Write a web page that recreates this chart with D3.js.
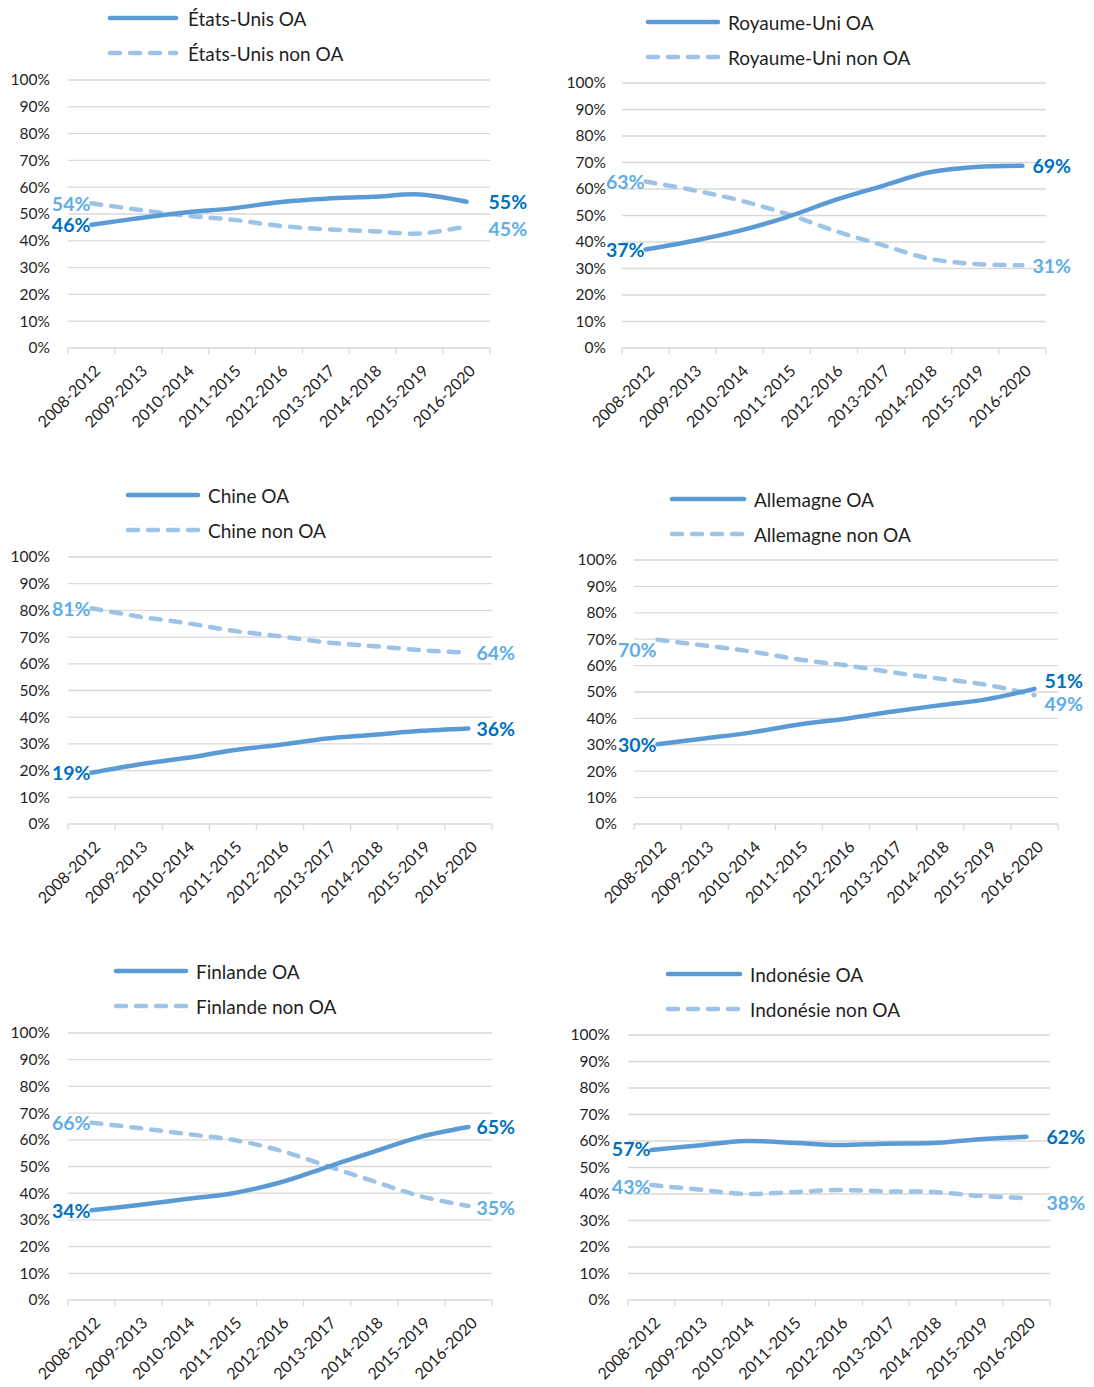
<!DOCTYPE html>
<html>
<head>
<meta charset="utf-8">
<script src="https://cdn.jsdelivr.net/npm/d3@7/dist/d3.min.js"></script>
<style>
  html, body { margin: 0; padding: 0; background: #ffffff; }
  svg { display: block; font-family: Lato, "Open Sans", sans-serif; }
</style>
</head>
<body>
<svg id="chart" width="1094" height="1387"></svg>
<script>
// ---------- DATA ----------
const categories = ["2008-2012","2009-2013","2010-2014","2011-2015","2012-2016","2013-2017","2014-2018","2015-2019","2016-2020"];
const yTicks = [0, 0.1, 0.2, 0.3, 0.4, 0.5, 0.6, 0.7, 0.8, 0.9, 1.0];

const countries = ["États-Unis", "Royaume-Uni", "Chine", "Allemagne", "Finlande", "Indonésie"];

const usOA      = [46.0, 48.4, 50.6, 52.1, 54.4, 55.7, 56.4, 57.3, 54.6];
const usNonOA   = [54.0, 51.6, 49.4, 47.9, 45.6, 44.3, 43.6, 42.7, 45.4];
const ukOA      = [37.2, 40.4, 44.3, 49.4, 55.7, 61.0, 66.2, 68.3, 68.8];
const ukNonOA   = [62.8, 59.6, 55.7, 50.6, 44.3, 39.0, 33.8, 31.7, 31.2];
const cnOA      = [19.2, 22.3, 24.7, 27.6, 29.7, 32.0, 33.4, 34.9, 35.8];
const cnNonOA   = [80.8, 77.7, 75.3, 72.4, 70.3, 68.0, 66.6, 65.1, 64.2];
const deOA      = [30.2, 32.4, 34.7, 37.7, 39.9, 42.6, 45.0, 47.3, 51.2];
const deNonOA   = [69.8, 67.6, 65.3, 62.3, 60.1, 57.4, 55.0, 52.7, 48.8];
const fiOA      = [33.6, 35.6, 37.8, 40.0, 44.0, 49.8, 55.6, 61.2, 64.8];
const fiNonOA   = [66.4, 64.4, 62.2, 60.0, 56.0, 50.2, 44.4, 38.8, 35.2];
const idOA      = [56.6, 58.3, 60.0, 59.3, 58.5, 59.0, 59.2, 60.7, 61.6];
const idNonOA   = [43.4, 41.7, 40.0, 40.7, 41.5, 41.0, 40.8, 39.3, 38.4];

const oaSeries    = [usOA, ukOA, cnOA, deOA, fiOA, idOA];
const nonOaSeries = [usNonOA, ukNonOA, cnNonOA, deNonOA, fiNonOA, idNonOA];

// ---------- LAYOUT (positions / styles only) ----------
const panels = [
  { left: 68,  right: 490,  top: 80,   bottom: 348,  yLab: 50,  legX1: 110, legX2: 176, legY: 18,  legTx: 188 },
  { left: 622, right: 1046, top: 83,   bottom: 348,  yLab: 606, legX1: 648, legX2: 718, legY: 22,  legTx: 728 },
  { left: 68,  right: 492,  top: 557,  bottom: 824,  yLab: 50,  legX1: 128, legX2: 198, legY: 495, legTx: 208 },
  { left: 634, right: 1058, top: 560,  bottom: 824,  yLab: 617, legX1: 672, legX2: 744, legY: 499, legTx: 754 },
  { left: 68,  right: 492,  top: 1033, bottom: 1300, yLab: 50,  legX1: 116, legX2: 186, legY: 971, legTx: 196 },
  { left: 628, right: 1050, top: 1035, bottom: 1300, yLab: 610, legX1: 668, legX2: 740, legY: 974, legTx: 750 }
];
// label nudges: [startOA dy, startNon dy, endOA dy, endNon dy, endGap]
const nudges = [
  [0, 0, 0, 2, 22],
  [0, 0, 0, 0, 10],
  [0, 0, 0, 0, 8],
  [0, 10, -8, 8, 10],
  [0, 0, 0, 1, 8],
  [-2, 2, 0, 4, 20]
];

const COL_OA = "#5B9BD5", COL_NON = "#9DC3E6";
const LAB_OA = "#0070C0", LAB_NON = "#5FAEE6";
const GRID = "#D9D9D9", TXT = "#1f1f1f";
const LEG_GAP = 35;

const svg = d3.select("#chart");

panels.forEach((p, i) => {
  const g = svg.append("g");
  const x = d3.scaleBand().domain(categories).range([p.left, p.right]).padding(0);
  const y = d3.scaleLinear().domain([0, 1]).range([p.bottom, p.top]);
  const cx = c => x(c) + x.bandwidth() / 2;

  // gridlines
  g.append("g").selectAll("line").data(yTicks.filter(t => t > 0)).join("line")
    .attr("x1", p.left).attr("x2", p.right)
    .attr("y1", d => y(d)).attr("y2", d => y(d))
    .attr("stroke", GRID).attr("stroke-width", 1.3);

  // y axis labels
  const ya = g.append("g").attr("transform", `translate(${p.yLab},0)`)
    .call(d3.axisLeft(y).tickValues(yTicks).tickFormat(d3.format(".0%")).tickSize(0).tickPadding(0));
  ya.select(".domain").remove();
  ya.selectAll("text").attr("fill", TXT).style("font-size", "15.5px").style("font-family", "Lato, sans-serif");

  // x axis line + boundary ticks
  g.append("line").attr("x1", p.left).attr("x2", p.right).attr("y1", p.bottom).attr("y2", p.bottom)
    .attr("stroke", GRID).attr("stroke-width", 1.3);
  const bounds = categories.map(c => x(c)).concat([p.right]);
  g.append("g").selectAll("line").data(bounds).join("line")
    .attr("x1", d => d).attr("x2", d => d).attr("y1", p.bottom).attr("y2", p.bottom + 6)
    .attr("stroke", GRID).attr("stroke-width", 1.3);

  // x labels
  const xa = g.append("g").attr("transform", `translate(0,${p.bottom})`)
    .call(d3.axisBottom(x).tickSize(0).tickPadding(0));
  xa.select(".domain").remove();
  xa.selectAll("text")
    .attr("fill", TXT).style("font-size", "16px").style("font-family", "Lato, sans-serif")
    .attr("text-anchor", "end").attr("dy", null).attr("y", 0).attr("x", 0)
    .attr("transform", "translate(7,21) rotate(-45)")
    .attr("dominant-baseline", "middle");

  const line = d3.line()
    .x((d, k) => cx(categories[k]))
    .y(d => y(d / 100))
    .curve(d3.curveCatmullRom.alpha(0.5));

  const oa = oaSeries[i], non = nonOaSeries[i];

  g.append("path").datum(non).attr("d", line)
    .attr("fill", "none").attr("stroke", COL_NON).attr("stroke-width", 4.5)
    .attr("stroke-linecap", "round").attr("stroke-dasharray", "10,10");
  g.append("path").datum(oa).attr("d", line)
    .attr("fill", "none").attr("stroke", COL_OA).attr("stroke-width", 4.5)
    .attr("stroke-linecap", "round");

  // data labels
  const n = nudges[i];
  const x0 = cx(categories[0]), x1 = cx(categories[categories.length - 1]);
  const labs = [
    { v: oa[0], x: x0 - 1, y: y(oa[0] / 100) + n[0], a: "end", c: LAB_OA },
    { v: non[0], x: x0 - 1, y: y(non[0] / 100) + n[1], a: "end", c: LAB_NON },
    { v: oa[oa.length - 1], x: x1 + n[4], y: y(oa[oa.length - 1] / 100) + n[2], a: "start", c: LAB_OA },
    { v: non[non.length - 1], x: x1 + n[4], y: y(non[non.length - 1] / 100) + n[3], a: "start", c: LAB_NON }
  ];
  g.append("g").selectAll("text").data(labs).join("text")
    .attr("x", d => d.x).attr("y", d => d.y)
    .attr("text-anchor", d => d.a).attr("dominant-baseline", "central")
    .attr("fill", d => d.c).style("font-size", "19.5px").style("font-weight", "bold")
    .text(d => Math.round(d.v) + "%");

  // legend
  const leg = g.append("g");
  leg.append("line").attr("x1", p.legX1).attr("x2", p.legX2).attr("y1", p.legY).attr("y2", p.legY)
    .attr("stroke", COL_OA).attr("stroke-width", 4.5).attr("stroke-linecap", "round");
  leg.append("line").attr("x1", p.legX1).attr("x2", p.legX2).attr("y1", p.legY + LEG_GAP).attr("y2", p.legY + LEG_GAP)
    .attr("stroke", COL_NON).attr("stroke-width", 4.5).attr("stroke-linecap", "round").attr("stroke-dasharray", "10,10");
  leg.append("text").attr("x", p.legTx).attr("y", p.legY).attr("dominant-baseline", "central")
    .attr("fill", TXT).style("font-size", "19px").text(countries[i] + " OA");
  leg.append("text").attr("x", p.legTx).attr("y", p.legY + LEG_GAP).attr("dominant-baseline", "central")
    .attr("fill", TXT).style("font-size", "19px").text(countries[i] + " non OA");
});
</script>
</body>
</html>
